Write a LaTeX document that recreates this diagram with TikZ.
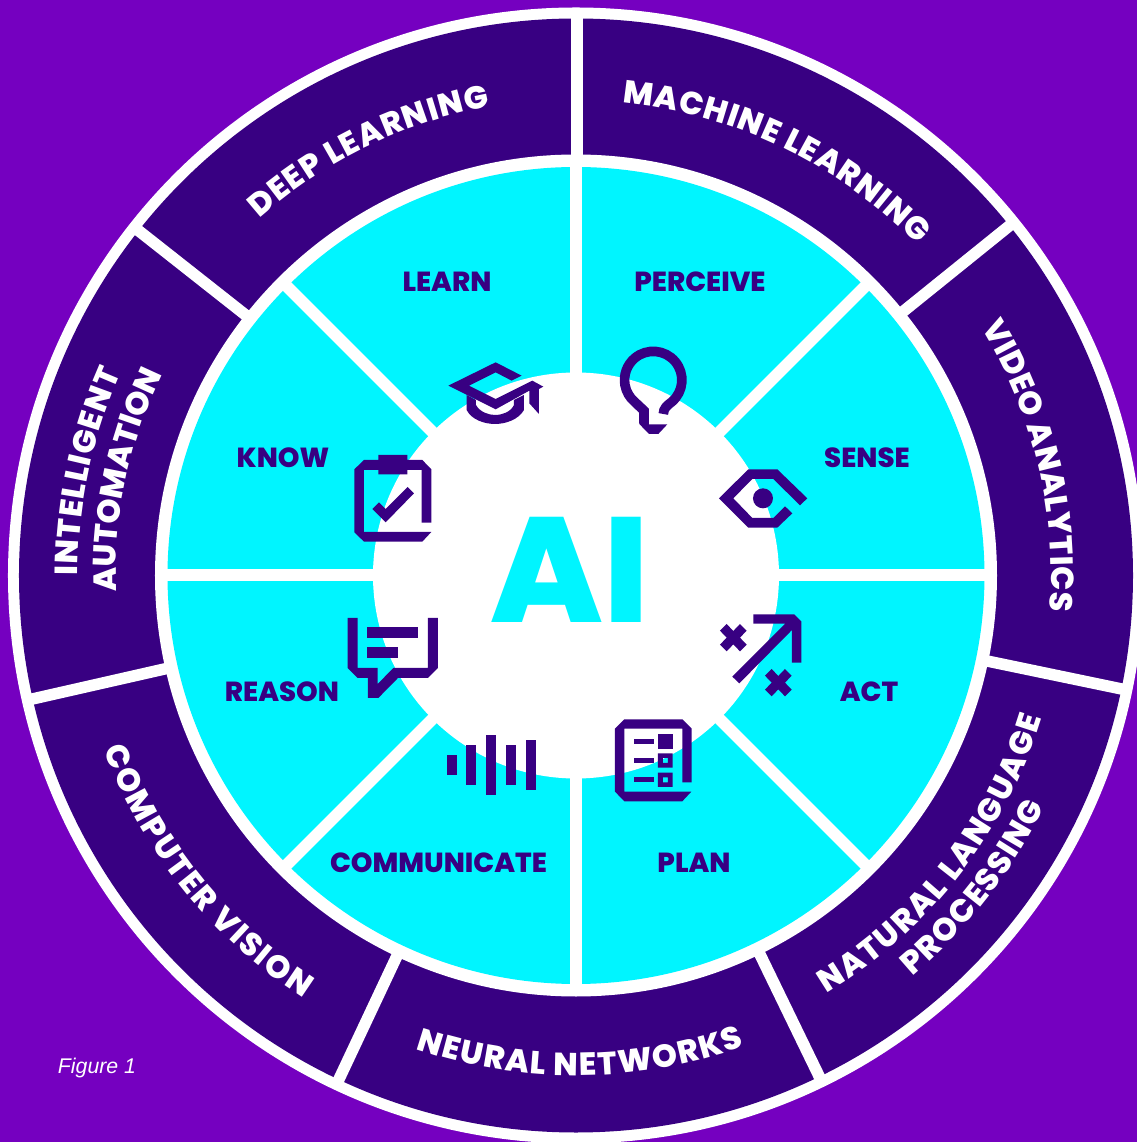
\documentclass[tikz,border=0pt]{standalone}
\usepackage{fontspec}
\setmainfont{Poppins}
\newfontfamily\heavyfont{Poppins ExtraBold}
\newfontfamily\figfont{Liberation Sans}
\usetikzlibrary{decorations.text}
\definecolor{wheelbg}{HTML}{7500C0}
\definecolor{wheeldark}{HTML}{380082}
\definecolor{wheelcyan}{HTML}{00F5FF}
\tikzset{
  outergap/.style={draw=white,line width=0.23cm},
  innergap/.style={draw=white,line width=0.24cm},
  icon/.style={fill=wheeldark,draw=none},
  step label/.style={text=wheeldark,font=\heavyfont\fontsize{15.7}{18}\selectfont},
  ringtext/.style={decorate,decoration={text along path,text align={fit to path},
    text={|\heavyfont\fontsize{18.2}{20}\selectfont\color{white}|#1}}}
}
\begin{document}
\begin{tikzpicture}[x=0.02cm,y=0.02cm]
\useasboundingbox (-576,575.5) rectangle (561,-566.5);
\clip (-576,575.5) rectangle (561,-566.5);
\fill[wheelbg] (-576,575.5) rectangle (561,-566.5);
% rings
\fill[white] (0,0) circle (568);
\fill[wheeldark] (0,0) circle (557);
\fill[white] (0,0) circle (421);
\fill[wheelcyan] (0,0) circle (408.5);
% outer dividers
\draw[outergap] (1,415) -- (1,562);
\draw[outergap] (38.9:415) -- (38.9:562);
\draw[outergap] (-11.75:415) -- (-11.75:562);
\draw[outergap] (-64.1:415) -- (-64.1:562);
\draw[outergap] (244.8:415) -- (244.8:562);
\draw[outergap] (192.8:415) -- (192.8:562);
\draw[outergap] (141.75:415) -- (141.75:562);
% inner dividers
\draw[innergap] (0,-415) -- (0,415);
\draw[innergap] (-415,0) -- (415,0);
\draw[innergap] (45:415) -- (225:415);
\draw[innergap] (135:415) -- (315:415);
\fill[white] (0,0) circle (203);
% ring labels
\path[ringtext={DEEP LEARNING}] (131.6:477) arc[start angle=131.6,end angle=100.4,radius=477];
\path[ringtext={MACHINE LEARNING}] (84.4:475) arc[start angle=84.4,end angle=44.1,radius=475];
\path[ringtext={VIDEO ANALYTICS}] (31.5:475) arc[start angle=31.5,end angle=-4.3,radius=475];
\path[ringtext={NATURAL LANGUAGE}] (-59:487) arc[start angle=-59,end angle=-17,radius=487];
\path[ringtext={PROCESSING}] (-50:523) arc[start angle=-50,end angle=-26.3,radius=523];
\path[ringtext={NEURAL NETWORKS}] (-108.7:500) arc[start angle=-108.7,end angle=-70.3,radius=500];
\path[ringtext={COMPUTER VISION}] (200.2:503) arc[start angle=200.2,end angle=237.2,radius=503];
\path[ringtext={INTELLIGENT}] (180:498) arc[start angle=180,end angle=156,radius=498];
\path[ringtext={AUTOMATION}] (182:460) arc[start angle=182,end angle=154,radius=460];
% inner labels, image pixels
\begin{scope}[shift={(-576,575.5)},yscale=-1]
\node[step label] (LEARN) at (447,281.5) {LEARN};
\node[step label] (PERCEIVE) at (700,281.5) {PERCEIVE};
\node[step label] (KNOW) at (283,457.5) {KNOW};
\node[step label] (SENSE) at (867,457.5) {SENSE};
\node[step label] (REASON) at (282,691.5) {REASON};
\node[step label] (ACT) at (869,691.5) {ACT};
\node[step label] (COMMUNICATE) at (438.5,862.5) {COMMUNICATE};
\node[step label] (PLAN) at (694,862.5) {PLAN};
\node[text=wheelcyan,font=\heavyfont\fontsize{85}{85}\selectfont] (AI) at (570,570) {AI};
\node[text=white,font=\figfont\itshape\fontsize{12.1}{14}\selectfont] (FIGURE) at (97,1067.5) {Figure 1};
\end{scope}
% cap and clipboard
\begin{scope}[shift={(-236,235.5)},xscale=0.3333,yscale=-0.3333]
\fill[icon] (325,137) -- (467,67) -- (545,107) -- (515,122) -- (467,97) -- (387,137) -- (467,177) -- (577,122) -- (610,140) -- (597,147) -- (597,222) -- (568,190) -- (568,152) -- (467,208) -- cycle;
\fill[icon] (380,165) -- (408,180) -- (408,195) .. controls (420,216) and (445,225) .. (465,225) .. controls (487,225) and (512,216) .. (522,195) -- (522,180) -- (552,165) -- (552,210) .. controls (535,240) and (495,252) .. (465,252) .. controls (435,252) and (395,240) .. (380,210) -- cycle;
\fill[icon] (72,360) -- (115,360) -- (115,345) -- (202,345) -- (202,360) -- (247,360) -- (274,388) -- (274,548) -- (245,548) -- (245,390) -- (202,390) -- (202,403) -- (115,403) -- (115,390) -- (72,390) -- (72,576) -- (274,576) -- (247,605) -- (72,605) -- (43,577) -- (43,388) -- cycle;
\fill[icon] (97,507) -- (117,487) -- (137,507) -- (203,441) -- (222,460) -- (137,547) -- cycle;
\end{scope}
% bulb and eye
\begin{scope}[shift={(4,235.5)},xscale=0.3333,yscale=-0.3333]
\draw[wheeldark,line width=0.193cm] (250,222) .. controls (250,205) and (262,196) .. (275,186) arc[start angle=50,end angle=-230,radius=86] -- (192,212) -- (192,250);
\fill[icon] (178,245) -- (207,245) -- (207,253) -- (262,253) -- (235,282) -- (207,282) -- (178,252) -- cycle;
\fill[icon] (417,475) -- (505,388) -- (592,388) -- (682,475) -- (660,496) -- (580,417) -- (517,417) -- (460,475) -- (517,534) -- (580,534) -- (615,499) -- (637,520) -- (592,563) -- (505,563) -- cycle;
\fill[icon] (549,475) circle (30);
\end{scope}
% speech bubble and sound bars
\begin{scope}[shift={(-236,-14.5)},xscale=0.3333,yscale=-0.3333]
\fill[icon] (23,84) -- (53,84) -- (53,234) -- (113,234) -- (113,282) -- (160,234) -- (264,234) -- (264,84) -- (294,84) -- (294,234) -- (264,264) -- (174,264) -- (115,324) -- (84,324) -- (84,264) -- (53,264) -- (23,234) -- cycle;
\fill[icon] (81,111) rectangle (234,144);
\fill[icon] (81,171) rectangle (174,204);
\fill[icon] (321,495) rectangle (351,555);
\fill[icon] (378,465) rectangle (408,585);
\fill[icon] (438,435) rectangle (468,615);
\fill[icon] (498,465) rectangle (528,585);
\fill[icon] (558,450) rectangle (588,600);
\end{scope}
% arrow and plan
\begin{scope}[shift={(14,-14.5)},xscale=0.3333,yscale=-0.3333]
\fill[icon] (490,73) -- (613,73) -- (634,94) -- (634,218) -- (606,218) -- (606,120) -- (448,280) -- (427,260) -- (586,101) -- (490,101) -- cycle;
\fill[icon] (390,122) -- (410,102) -- (430,123) -- (450,102) -- (470,122) -- (450,143) -- (470,164) -- (450,184) -- (430,163) -- (410,184) -- (390,164) -- (410,143) -- cycle;
\fill[icon] (525,257) -- (545,237) -- (565,258) -- (585,237) -- (605,257) -- (585,278) -- (605,299) -- (585,319) -- (565,298) -- (545,319) -- (525,299) -- (545,278) -- cycle;
\fill[icon] (103,388) -- (277,388) -- (305,416) -- (305,577) -- (277,577) -- (277,416) -- (103,416) -- (103,605) -- (304,605) -- (277,634) -- (103,634) -- (75,605) -- (75,416) -- cycle;
\fill[icon] (132,447) rectangle (192,462);
\fill[icon] (132,504) rectangle (192,519);
\fill[icon] (132,561) rectangle (192,576);
\fill[icon] (204,432) rectangle (249,477);
\fill[icon,even odd rule] (204,490) rectangle (248,533) (219,504) rectangle (234,519);
\fill[icon,even odd rule] (204,548) rectangle (248,591) (219,562) rectangle (234,577);
\end{scope}
\end{tikzpicture}
\end{document}
